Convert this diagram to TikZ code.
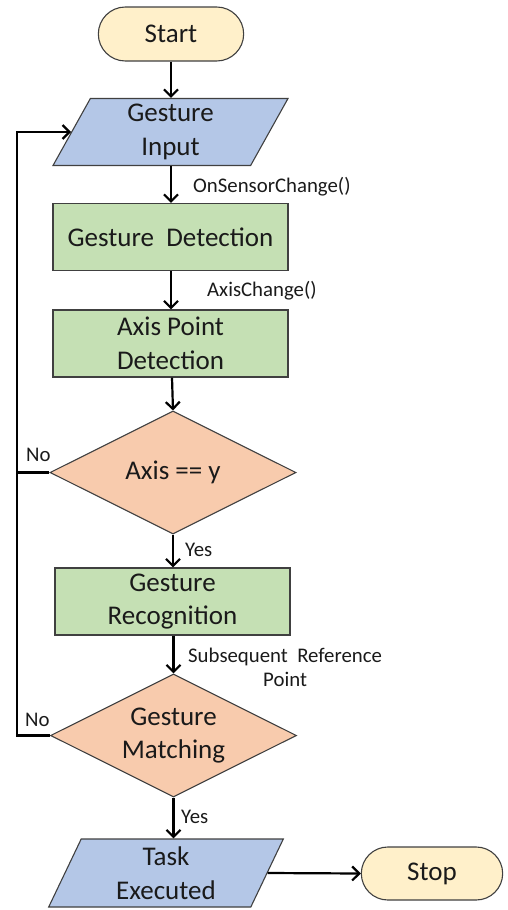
\documentclass[tikz,border=0pt]{standalone}
\usepackage{fontspec}
\setmainfont{Carlito}
\usetikzlibrary{shapes.geometric,shapes.misc,arrows.meta}

\definecolor{termfill}{HTML}{FFF0CA}
\definecolor{iofill}{HTML}{B4C7E7}
\definecolor{procfill}{HTML}{C5E0B4}
\definecolor{decfill}{HTML}{F8CBAD}
\definecolor{edge}{HTML}{404040}
\definecolor{ink}{HTML}{1A1A1A}

\tikzset{
  base/.style={draw=edge, line width=1.1pt, text=ink, align=center,
    font=\fontsize{27}{33.5}\selectfont},
  term/.style={base, rounded rectangle, fill=termfill, minimum height=54pt},
  io/.style={base, trapezium, trapezium left angle=70, trapezium right angle=110,
    trapezium stretches=true, fill=iofill, minimum width=235pt,
    minimum height=67pt, inner sep=0pt},
  proc/.style={base, rectangle, fill=procfill, minimum width=235pt,
    minimum height=67pt},
  dec/.style={base, diamond, fill=decfill, aspect=2, inner sep=0pt,
    minimum width=246pt, minimum height=123pt},
  conn/.style={line width=2.2pt, -{Straight Barb[length=7pt,width=14pt]}},
  wire/.style={line width=2.2pt},
  lab/.style={inner sep=0pt, text=ink, align=center,
    font=\fontsize{20.8}{24}\selectfont}
}

\begin{document}
\begin{tikzpicture}[x=1pt,y=-1pt]
\useasboundingbox (0,0) rectangle (508,910);

% flowchart nodes
\node[term, minimum width=152pt] (start) at (171,34) {Start};
\node[io]   (in)   at (170.5,132) {Gesture\\Input};
\node[proc] (det)  at (170.5,237) {Gesture~ Detection};
\node[proc] (apd)  at (170.5,343.5) {Axis Point\\Detection};
\node[dec]  (d1)   at (173,472.5) {Axis == y};
\node[proc] (rec)  at (172.5,601.5) {Gesture\\Recognition};
\node[dec]  (d2)   at (173.5,735.5) {Gesture\\Matching};
\node[io, minimum height=68pt] (task) at (166,873) {Task\\Executed};
\node[term, minimum width=148pt, minimum height=53pt] (stop) at (432,873.5) {Stop};

% guide columns and the return path on the left
\coordinate (colA) at (171,0);
\coordinate (colB) at (172,0);
\coordinate (loopA) at (17,472.5);
\coordinate (loopB) at (17,735.5);

% main flow
\draw[conn] (start.south) -- (start.south |- in.north);
\draw[conn] (in.south -| colA) -- (colA |- det.north);
\draw[conn] (det.south -| colA) -- (colA |- apd.north);
\draw[conn] (apd.south -| colB) -- (d1.north);
\draw[conn] (d1.south) -- (d1.south |- rec.north);
\draw[conn] (rec.south -| d2.north) -- (d2.north);
\draw[conn] (d2.south) -- (d2.south |- task.north);
\draw[conn] (task.east) -- (stop.west);

% "No" branches back to the input
\draw[conn] (d1.west) -- (loopA) |- (in.west);
\draw[wire] (d2.west) -- (loopB) -- (loopA);

% connector labels
\node[lab, anchor=west] (l1) at (193,187) {OnSensorChange()};
\node[lab, anchor=west] (l2) at (207,291) {AxisChange()};
\node[lab, anchor=west] (l3) at (185,550) {Yes};
\node[lab, anchor=west] (l4) at (188,667) {Subsequent~ Reference\\Point};
\node[lab, anchor=west] (l5) at (181,817) {Yes};
\node[lab, anchor=west] (l6) at (26,455) {No};
\node[lab, anchor=west] (l7) at (25,720) {No};
\end{tikzpicture}
\end{document}
